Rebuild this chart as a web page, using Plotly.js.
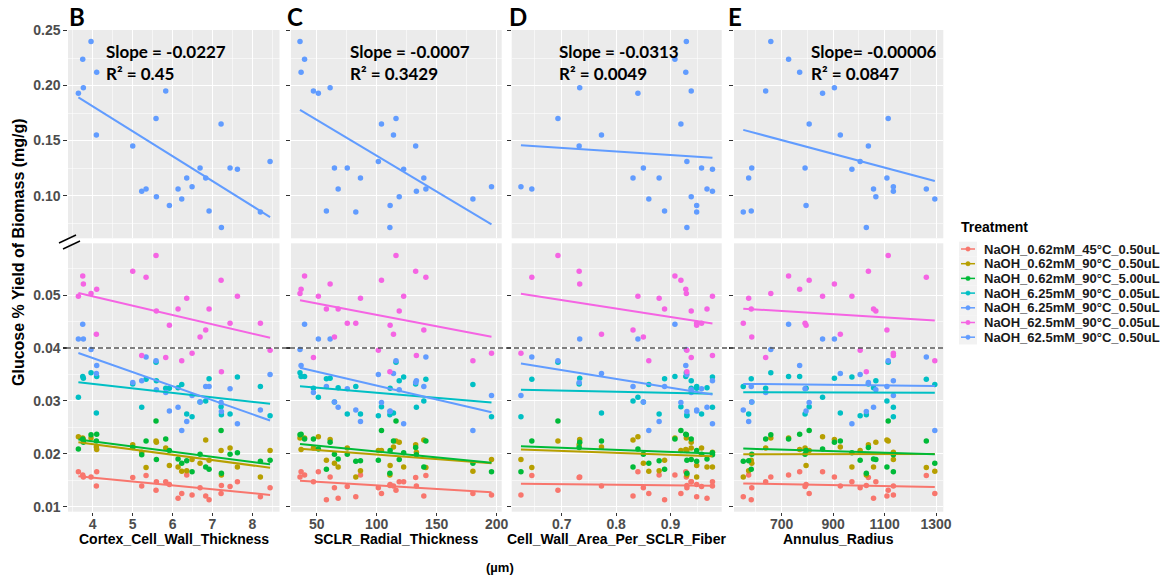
<!DOCTYPE html>
<html><head><meta charset="utf-8">
<script src="https://cdn.plot.ly/plotly-3.0.1.min.js"></script>
<style>html,body{margin:0;padding:0;background:#fff}#chart{width:1168px;height:577px}</style>
</head><body><div id="chart"></div>
<script>
// ---------------- DATA ----------------
const treatments = ["NaOH_0.62mM_45°C_0.50uL","NaOH_0.62mM_90°C_0.50uL","NaOH_0.62mM_90°C_5.00uL","NaOH_6.25mM_90°C_0.05uL","NaOH_6.25mM_90°C_0.50uL","NaOH_62.5mM_90°C_0.05uL","NaOH_62.5mM_90°C_0.50uL"];
const colors = ["#F8766D","#B79F00","#00BA38","#00BFC4","#619CFF","#F564E3","#619CFF"];
const panelLabels = ["B","C","D","E"];
const xTitles = ["Cortex_Cell_Wall_Thickness","SCLR_Radial_Thickness","Cell_Wall_Area_Per_SCLR_Fiber","Annulus_Radius"];
const slopeLabels = ["Slope = -0.0227","Slope = -0.0007","Slope = -0.0313","Slope= -0.00006"];
const r2Labels = ["R² = 0.45","R² = 0.3429","R² = 0.0049","R² = 0.0847"];
const unitLabel = "(µm)";
const yTitle = "Glucose % Yield of Biomass (mg/g)";
const legendTitle = "Treatment";
const refValue = 0.04;

// per-sample explanatory variables (one value per sample, 26 samples)
const xCortex = [3.640,3.749,3.765,3.957,4.091,4.099,5.002,5.227,5.336,5.586,5.595,5.829,5.921,6.138,6.230,6.355,6.489,6.689,6.831,6.915,7.216,7.224,7.441,7.625,8.201,8.444];
const xSCLR   = [51.4,39.9,61.2,36.1,114.0,37.0,132.5,133.1,141.0,116.1,118.8,47.3,111.2,67.9,180.2,86.5,195.7,64.8,139.3,58.1,104.0,111.0,75.5,122.5,82.6,101.4];
const xArea   = [0.840,0.908,0.733,0.929,0.773,0.928,0.732,0.977,0.645,0.693,0.938,0.938,0.948,0.967,0.860,0.879,0.625,0.850,0.831,0.889,0.919,0.930,0.957,0.977,0.948,0.930];
const xAnnulus= [859,727,905,658,928,770,1037,1134,1262,1114,1066,638,795,1057,1295,572,1134,584,1109,582,807,1029,791,973,551,1005];

// glucose yield per sample for each treatment
const yRed   = [0.0166,0.0160,0.0156,0.0156,0.0139,0.0166,0.0155,0.0139,0.0159,0.0131,0.0147,0.0147,0.0142,0.0116,0.0125,0.0160,0.0122,0.0136,0.0120,0.0113,0.0125,0.0140,0.0138,0.0147,0.0119,0.0136];
const yOlive = [0.0232,0.0230,0.0227,0.0230,0.0213,0.0208,0.0217,0.0203,0.0174,0.0224,0.0222,0.0211,0.0178,0.0175,0.0167,0.0168,0.0189,0.0182,0.0226,0.0188,0.0206,0.0160,0.0211,0.0175,0.0156,0.0206];
const yGreen = [0.0209,0.0228,0.0222,0.0236,0.0224,0.0237,0.0212,0.0198,0.0224,0.0262,0.0189,0.0228,0.0206,0.0190,0.0182,0.0187,0.0166,0.0199,0.0175,0.0171,0.0244,0.0163,0.0199,0.0202,0.0186,0.0188];
const yCyan  = [0.0307,0.0346,0.0343,0.0353,0.0277,0.0346,0.0332,0.0288,0.0341,0.0373,0.0338,0.0324,0.0324,0.0325,0.0331,0.0275,0.0270,0.0298,0.0300,0.0342,0.0289,0.0274,0.0275,0.0345,0.0327,0.0272];
const yBlue  = [0.0417,0.0445,0.0417,0.0397,0.0352,0.0367,0.0335,0.0338,0.0383,0.0376,0.0321,0.0316,0.0281,0.0288,0.0244,0.0261,0.0310,0.0298,0.0327,0.0327,0.0297,0.0280,0.0323,0.0257,0.0283,0.0350];
const yPink  = [0.0498,0.0536,0.0521,0.0503,0.0426,0.0511,0.0545,0.0386,0.0534,0.0575,0.0470,0.0382,0.0443,0.0474,0.0376,0.0494,0.0390,0.0421,0.0434,0.0474,0.0528,0.0355,0.0447,0.0498,0.0447,0.0396];
const yTop   = [0.193,0.224,0.198,0.240,0.155,0.212,0.145,0.104,0.106,0.170,0.099,0.195,0.091,0.106,0.097,0.116,0.108,0.125,0.116,0.086,0.165,0.071,0.125,0.124,0.085,0.131];

// ---------------- LAYOUT GEOMETRY ----------------
const W = 1168, H = 577;
const xVars = [xCortex, xSCLR, xArea, xAnnulus];
const bottomSeries = [yRed, yOlive, yGreen, yCyan, yBlue, yPink];
const cols = [[68,279.5],[291,501.7],[511.7,721.7],[734,943.3]];
const rowTop = [30,238.3], rowBot = [243.3,511.7];
const xRanges = [[3.38,8.68],[28.6,204.2],[0.608,0.994],[515,1328]];
const xMajor = [{t0:0,d:1,f:'d'},{t0:0,d:50,f:'d'},{t0:0,d:0.1,f:'.1f'},{t0:100,d:200,f:'d'}];
const xMinor = [0.5,25,0.05,100];
const fx = px => px / W, fy = px => 1 - px / H;

const tickFont = {family:'Liberation Sans, Arial, sans-serif', size:14, color:'#4D4D4D', weight:'bold'};
const baseAxis = {showgrid:true, gridcolor:'#FFFFFF', gridwidth:1.1, zeroline:false, showline:false,
  ticklen:3.7, tickwidth:1.1, tickcolor:'#333333', tickfont:tickFont};

const layout = {width:W, height:H, margin:{l:0,r:0,t:0,b:0}, paper_bgcolor:'#FFFFFF',
  plot_bgcolor:'#EBEBEB', showlegend:false, shapes:[], annotations:[]};

function fit(xs, ys){
  const n = xs.length;
  const mx = xs.reduce((a,b)=>a+b,0)/n, my = ys.reduce((a,b)=>a+b,0)/n;
  let sxy=0, sxx=0;
  for(let i=0;i<n;i++){ sxy += (xs[i]-mx)*(ys[i]-my); sxx += (xs[i]-mx)*(xs[i]-mx); }
  const b = sxy/sxx, a = my - b*mx;
  const x0 = Math.min(...xs), x1 = Math.max(...xs);
  return {x:[x0,x1], y:[a+b*x0, a+b*x1]};
}

const pointTraces = [], lineTraces = [];
for (let p=0;p<4;p++){
  const nT = p+1, nB = p+5;
  const xT = nT===1?'x':'x'+nT, yT = nT===1?'y':'y'+nT;
  const xBk = 'x'+nB, yBk = 'y'+nB;
  const minor = {dtick:xMinor[p], tick0:0, showgrid:true, gridcolor:'#FFFFFF', gridwidth:0.55};
  layout[nT===1?'xaxis':'xaxis'+nT] = Object.assign({}, baseAxis, {domain:[fx(cols[p][0]),fx(cols[p][1])],
    range:xRanges[p], anchor:yT, tick0:xMajor[p].t0, dtick:xMajor[p].d, ticks:'', showticklabels:false, minor:minor});
  layout['xaxis'+nB] = Object.assign({}, baseAxis, {domain:[fx(cols[p][0]),fx(cols[p][1])],
    range:xRanges[p], anchor:yBk, tick0:xMajor[p].t0, dtick:xMajor[p].d, tickformat:xMajor[p].f, ticks:'outside',
    ticklabelstandoff:-4, showticklabels:true, minor:minor});
  layout[nT===1?'yaxis':'yaxis'+nT] = Object.assign({}, baseAxis, {domain:[fy(rowTop[1]),fy(rowTop[0])],
    range:[0.0612,0.2505], anchor:xT, tick0:0, dtick:0.05, tickformat:'.2f', ticks:'outside', showticklabels:p===0,
    minor:{dtick:0.025, tick0:0, showgrid:true, gridcolor:'#FFFFFF', gridwidth:0.55}});
  layout['yaxis'+nB] = Object.assign({}, baseAxis, {domain:[fy(rowBot[1]),fy(rowBot[0])],
    range:[0.00905,0.0598], anchor:xBk, tick0:0, dtick:0.01, tickformat:'.2f', ticks:'outside', showticklabels:p===0,
    minor:{dtick:0.005, tick0:0, showgrid:true, gridcolor:'#FFFFFF', gridwidth:0.55}});

  // bottom panel: six treatments
  bottomSeries.forEach((ys,t)=>{
    pointTraces.push({type:'scatter', mode:'markers', x:xVars[p], y:ys, xaxis:xBk, yaxis:yBk,
      marker:{color:colors[t], size:5.5}, hoverinfo:'skip', name:treatments[t]});
    const f = fit(xVars[p], ys);
    lineTraces.push({type:'scatter', mode:'lines', x:f.x, y:f.y, xaxis:xBk, yaxis:yBk,
      line:{color:colors[t], width:2}, hoverinfo:'skip'});
  });
  // top panel: 62.5mM 0.50uL
  pointTraces.push({type:'scatter', mode:'markers', x:xVars[p], y:yTop, xaxis:xT, yaxis:yT,
    marker:{color:colors[6], size:5.5}, hoverinfo:'skip', name:treatments[6]});
  const ft = fit(xVars[p], yTop);
  lineTraces.push({type:'scatter', mode:'lines', x:ft.x, y:ft.y, xaxis:xT, yaxis:yT,
    line:{color:colors[6], width:2}, hoverinfo:'skip'});

  // panel letter, slope text, x title
  const bold = (s,sz,fam,col) => ({text:'<b>'+s+'</b>', font:{family:fam, size:sz, color:col||'#000000'}, showarrow:false, xref:'paper', yref:'paper'});
  const letterX = [67,285,507,726][p];
  layout.annotations.push(Object.assign(bold(panelLabels[p],24,'Lato, Liberation Sans, sans-serif'),{x:fx(letterX), y:fy(17), xanchor:'left', yanchor:'middle'}));
  const sx = [104,348,557,809][p];
  layout.annotations.push(Object.assign(bold(slopeLabels[p],17,'Lato, Open Sans, sans-serif'),{x:fx(sx), y:fy(51), xanchor:'left', yanchor:'middle'}));
  layout.annotations.push(Object.assign(bold(r2Labels[p],17,'Lato, Open Sans, sans-serif'),{x:fx(sx), y:fy(73), xanchor:'left', yanchor:'middle'}));
  layout.annotations.push(Object.assign(bold(xTitles[p],14,'Liberation Sans, Arial, sans-serif'),{x:fx((cols[p][0]+cols[p][1])/2), y:fy(539), xanchor:'center', yanchor:'middle'}));
}

// y title, unit label
layout.annotations.push({text:'<b>'+yTitle+'</b>', textangle:-90, font:{family:'Liberation Sans, Arial, sans-serif', size:16, color:'#000000'},
  showarrow:false, xref:'paper', yref:'paper', x:fx(18), y:fy(252), xanchor:'center', yanchor:'middle'});
layout.annotations.push({text:'<b>'+unitLabel+'</b>', font:{family:'Liberation Sans, Arial, sans-serif', size:13, color:'#000000'},
  showarrow:false, xref:'paper', yref:'paper', x:fx(500), y:fy(567), xanchor:'center', yanchor:'middle'});

// reference dashed line at 0.04 across all lower panels
layout.shapes.push({type:'line', xref:'paper', yref:'y5', x0:fx(66), x1:fx(944), y0:refValue, y1:refValue,
  line:{color:'#555555', width:1.3, dash:'5px,3px'}, layer:'above'});
// axis break marks
layout.shapes.push({type:'line', xref:'paper', yref:'paper', x0:fx(59), y0:fy(243), x1:fx(76), y1:fy(235), line:{color:'#000000', width:1.4}});
layout.shapes.push({type:'line', xref:'paper', yref:'paper', x0:fx(63), y0:fy(249), x1:fx(80), y1:fy(241), line:{color:'#000000', width:1.4}});

// manual legend (ggplot style)
layout.annotations.push({text:'<b>'+legendTitle+'</b>', font:{family:'Liberation Sans, Arial, sans-serif', size:14, color:'#000000'},
  showarrow:false, xref:'paper', yref:'paper', x:fx(959), y:fy(227), xanchor:'left', yanchor:'middle'});
treatments.forEach((name,t)=>{
  const cy = 249 + t*14.7;
  layout.shapes.push({type:'rect', xref:'paper', yref:'paper', x0:fx(959), x1:fx(977), y0:fy(cy+7.3), y1:fy(cy-7.3),
    fillcolor:'#F2F2F2', line:{width:0}, layer:'below'});
  layout.shapes.push({type:'line', xref:'paper', yref:'paper', x0:fx(961), x1:fx(975), y0:fy(cy), y1:fy(cy),
    line:{color:colors[t], width:1.5}});
  layout.shapes.push({type:'circle', xref:'paper', yref:'paper', x0:fx(965.8), x1:fx(970.2), y0:fy(cy+2.2), y1:fy(cy-2.2),
    fillcolor:colors[t], line:{color:colors[t], width:0.5}});
  layout.annotations.push({text:'<b>'+name+'</b>', font:{family:'Liberation Sans, Arial, sans-serif', size:13, color:'#1A1A1A'},
    showarrow:false, xref:'paper', yref:'paper', x:fx(982), y:fy(cy), xanchor:'left', yanchor:'middle'});
});

Plotly.newPlot('chart', pointTraces.concat(lineTraces), layout, {staticPlot:true, displayModeBar:false});
</script>
</body></html>
